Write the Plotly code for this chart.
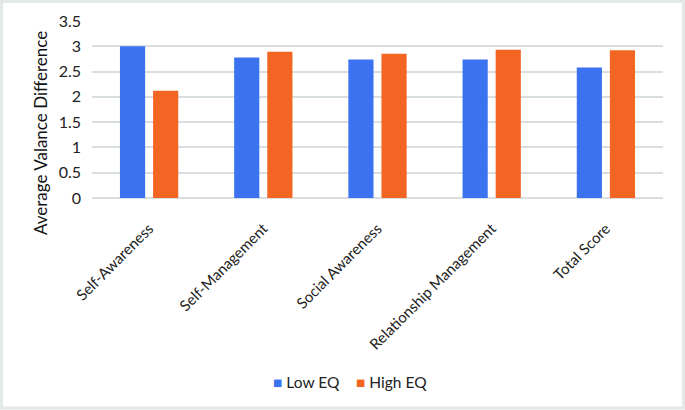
import plotly.graph_objects as go

categories = ["Self-Awareness", "Self-Management", "Social Awareness",
              "Relationship Management", "Total Score"]
low_eq = [3.0, 2.78, 2.74, 2.74, 2.58]
high_eq = [2.12, 2.89, 2.85, 2.93, 2.92]
y_ticks = [0, 0.5, 1, 1.5, 2, 2.5, 3, 3.5]
y_tick_labels = ["0", "0.5", "1", "1.5", "2", "2.5", "3", "3.5"]

font_name = "Lato"
blue = "#3a72f0"
orange = "#f26522"

fig = go.Figure()
fig.add_trace(go.Bar(x=categories, y=low_eq, name="Low EQ",
                     marker=dict(color=blue, line=dict(width=0))))
fig.add_trace(go.Bar(x=categories, y=high_eq, name="High EQ",
                     marker=dict(color=orange, line=dict(width=0))))

fig.update_layout(
    width=685, height=410,
    margin=dict(l=92, r=22, t=21, b=212),
    paper_bgcolor="white", plot_bgcolor="white",
    barmode="group", bargap=0.42, bargroupgap=0.24,
    font=dict(family=font_name, color="#222222"),
    showlegend=False,
    xaxis=dict(tickangle=-45, tickfont=dict(size=15), showgrid=False,
               showline=False, ticks="", ticklabelstandoff=18, automargin=False),
    yaxis=dict(range=[0, 3.5], tickvals=y_ticks, ticktext=y_tick_labels,
               tickfont=dict(size=16), gridcolor="#d9dede", gridwidth=1.5,
               zeroline=True, zerolinecolor="#d9dede", zerolinewidth=1.5,
               showline=False, ticks="", ticklabelstandoff=10, automargin=False),
)

fig.add_annotation(text="Average Valance Difference", xref="paper", yref="paper",
                   x=-0.091, y=0.367, xanchor="center", yanchor="middle",
                   textangle=-90, showarrow=False,
                   font=dict(size=17, color="#111111"))

# legend drawn as text: coloured square + series name
for tr, lx in zip(fig.data, [0.3135, 0.4588]):
    fig.add_annotation(text=f"<span style='color:{tr.marker.color}'>■</span> {tr.name}",
                       xref="paper", yref="paper", x=lx, y=-1.04,
                       xanchor="left", yanchor="middle", showarrow=False,
                       font=dict(size=15.5, color="#222222"))

# thin grey frame around the picture
fig.add_shape(type="rect", xref="paper", yref="paper",
              x0=-0.1585, x1=1.0359, y0=-1.186, y1=1.110,
              line=dict(color="#e3e8e8", width=3), layer="below")

fig.write_html("out.html", config={"displayModeBar": False},
               post_script="document.body.style.margin='0';")
